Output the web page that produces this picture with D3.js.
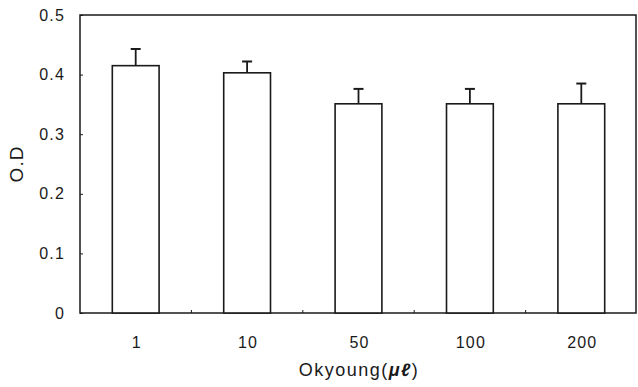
<!DOCTYPE html>
<html>
<head>
<meta charset="utf-8">
<script src="https://cdn.jsdelivr.net/npm/d3@7"></script>
<style>
  body { margin: 0; background: #fff; }
  svg { font-family: "Liberation Sans", Arial, sans-serif; }
</style>
</head>
<body>
<div id="chart"></div>
<script>
const doses = ["1", "10", "50", "100", "200"];
const odValues = [0.415, 0.403, 0.351, 0.351, 0.351];
const odErrors = [0.028, 0.019, 0.025, 0.025, 0.034];
const yTicks = [0, 0.1, 0.2, 0.3, 0.4, 0.5];

const width = 638, height = 387;
const margin = { top: 15, right: 1, bottom: 74, left: 80 };

const svg = d3.select("#chart").append("svg")
    .attr("width", width)
    .attr("height", height);

const xScale = d3.scaleBand()
    .domain(doses)
    .range([margin.left, width - margin.right])
    .paddingInner(0.58)
    .paddingOuter(0.29);

const yScale = d3.scaleLinear()
    .domain([0, 0.5])
    .range([height - margin.bottom, margin.top]);

const ink = "#1a1a1a";

// frame
svg.append("rect")
    .attr("x", margin.left)
    .attr("y", margin.top)
    .attr("width", width - margin.right - margin.left - 1)
    .attr("height", yScale(0) - margin.top)
    .attr("fill", "none")
    .attr("stroke", ink)
    .attr("stroke-width", 1.5);

// y axis, small inward ticks
let yAxis = d3.axisLeft(yScale)
    .tickValues(yTicks)
    .tickSizeInner(-3)
    .tickSizeOuter(0)
    .tickPadding(15)
    .tickFormat(d => d === 0 ? "0" : d3.format(".1f")(d));
let gy = svg.append("g")
    .attr("transform", `translate(${margin.left}, 0)`)
    .call(yAxis);
gy.select(".domain").remove();
gy.selectAll("line").attr("stroke", ink);
gy.selectAll("text")
    .attr("font-size", 16)
    .attr("letter-spacing", 1.2)
    .attr("fill", ink);

// x axis: ticks at category boundaries
const step = xScale.step();
const boundaries = doses.slice(1).map(d => xScale(d) - xScale.paddingInner() * step / 2);
svg.append("g").selectAll("line")
    .data(boundaries)
    .join("line")
    .attr("x1", d => d).attr("x2", d => d)
    .attr("y1", yScale(0)).attr("y2", yScale(0) - 3)
    .attr("stroke", ink);

svg.append("g").selectAll("text")
    .data(doses)
    .join("text")
    .attr("x", d => xScale(d) + xScale.bandwidth() / 2 + 1)
    .attr("y", yScale(0) + 35)
    .attr("text-anchor", "middle")
    .attr("font-size", 16)
    .attr("letter-spacing", 1.2)
    .attr("fill", ink)
    .text(d => d);

// bars
const bars = svg.append("g").selectAll("g")
    .data(doses.map((d, i) => ({ dose: d, v: odValues[i], e: odErrors[i] })))
    .join("g");

bars.append("rect")
    .attr("x", d => xScale(d.dose))
    .attr("y", d => yScale(d.v))
    .attr("width", xScale.bandwidth())
    .attr("height", d => yScale(0) - yScale(d.v))
    .attr("fill", "#fff")
    .attr("stroke", ink)
    .attr("stroke-width", 1.6);

bars.append("line")
    .attr("x1", d => xScale(d.dose) + xScale.bandwidth() / 2)
    .attr("x2", d => xScale(d.dose) + xScale.bandwidth() / 2)
    .attr("y1", d => yScale(d.v))
    .attr("y2", d => yScale(d.v + d.e))
    .attr("stroke", ink)
    .attr("stroke-width", 1.8);

bars.append("line")
    .attr("x1", d => xScale(d.dose) + xScale.bandwidth() / 2 - 5)
    .attr("x2", d => xScale(d.dose) + xScale.bandwidth() / 2 + 5)
    .attr("y1", d => yScale(d.v + d.e))
    .attr("y2", d => yScale(d.v + d.e))
    .attr("stroke", ink)
    .attr("stroke-width", 2);

// axis titles
svg.append("text")
    .attr("transform", `translate(23, ${(yScale(0) + margin.top) / 2}) rotate(-90)`)
    .attr("text-anchor", "middle")
    .attr("font-size", 19)
    .attr("letter-spacing", 1)
    .attr("fill", ink)
    .text("O.D");

const xt = svg.append("text")
    .attr("x", 359)
    .attr("y", 376)
    .attr("text-anchor", "middle")
    .attr("font-size", 18)
    .attr("letter-spacing", 1.5)
    .attr("fill", ink);
xt.append("tspan").text("Okyoung(");
xt.append("tspan").attr("font-style", "italic").attr("font-weight", "bold").text("μℓ");
xt.append("tspan").text(")");
</script>
</body>
</html>
